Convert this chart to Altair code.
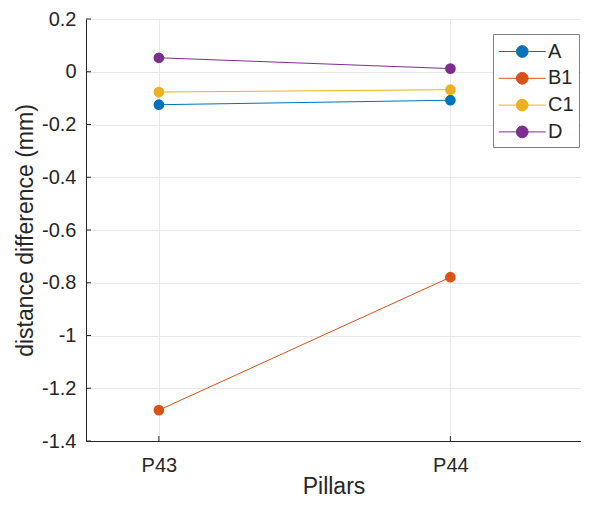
import altair as alt
import pandas as pd

pillars = ["P43", "P44"]
series = ["A", "B1", "C1", "D"]
vals_A = [-0.125, -0.108]
vals_B1 = [-1.283, -0.779]
vals_C1 = [-0.077, -0.068]
vals_D = [0.053, 0.012]
colors = ["#0072BD", "#D95319", "#EDB120", "#7E2F8E"]
y_ticks = [-1.4, -1.2, -1.0, -0.8, -0.6, -0.4, -0.2, 0.0, 0.2]
x_pos = [1, 2]

rows = []
for s, vals in zip(series, [vals_A, vals_B1, vals_C1, vals_D]):
    for p, pname, v in zip(x_pos, pillars, vals):
        rows.append({"series": s, "pos": p, "pillar": pname, "value": v})
df = pd.DataFrame(rows)

W, H = 495, 422
FONT = "Liberation Sans"
TXT = "#262626"
GRID = "#e8e8e8"

xscale = alt.Scale(domain=[0.75, 2.448], nice=False, zero=False)
yscale = alt.Scale(domain=[-1.4, 0.2], nice=False, zero=False)

label_expr = " : ".join(f"datum.value == {p} ? '{n}'" for p, n in zip(x_pos, pillars)) + " : ''"

xaxis = alt.Axis(values=x_pos, labelExpr=label_expr, title="Pillars",
                 grid=True, gridColor=GRID, ticks=False, labelPadding=14,
                 titleY=52, titleBaseline="alphabetic",
                 labelFontSize=20, titleFontSize=23,
                 labelColor=TXT, titleColor=TXT, domainColor=TXT,
                 labelFont=FONT, titleFont=FONT, titleFontWeight="normal")
yaxis = alt.Axis(values=y_ticks, labelExpr="toString(round(datum.value*10)/10)",
                 title="distance difference (mm)",
                 grid=True, gridColor=GRID, ticks=False, labelPadding=10,
                 titleX=-54, titleBaseline="alphabetic",
                 labelFontSize=20, titleFontSize=23,
                 labelColor=TXT, titleColor=TXT, domainColor=TXT,
                 labelFont=FONT, titleFont=FONT, titleFontWeight="normal")

legend = alt.Legend(orient="none", legendX=407, legendY=15, title=None,
                    symbolType="M-1,0L3,0M0.5,0A0.5,0.5 0 1,1 1.5,0A0.5,0.5 0 1,1 0.5,0",
                    symbolSize=552, symbolStrokeWidth=1, labelFontSize=20,
                    labelFont=FONT, labelColor=TXT, labelOffset=25, padding=5,
                    fillColor="white", strokeColor="#808080", rowPadding=3.8)

color = alt.Color("series:N", scale=alt.Scale(domain=series, range=colors), legend=legend)

lines = alt.Chart(df).mark_line(
    strokeWidth=1,
    point=alt.OverlayMarkDef(filled=True, size=115, opacity=1)
).encode(x=alt.X("pos:Q", scale=xscale, axis=xaxis),
         y=alt.Y("value:Q", scale=yscale, axis=yaxis),
         color=color)

yt = pd.DataFrame({"pos": [x_pos[0]] * len(y_ticks), "value": y_ticks})
xt = pd.DataFrame({"pos": x_pos, "value": [y_ticks[0]] * len(x_pos)})
ytick_layer = alt.Chart(yt).mark_rule(color=TXT, strokeWidth=1).encode(
    y=alt.Y("value:Q", scale=yscale, axis=yaxis), x=alt.value(0), x2=alt.value(5))
xtick_layer = alt.Chart(xt).mark_rule(color=TXT, strokeWidth=1).encode(
    x=alt.X("pos:Q", scale=xscale, axis=xaxis), y=alt.value(H), y2=alt.value(H - 5))

chart = alt.layer(lines, ytick_layer, xtick_layer).properties(
    width=W, height=H,
    autosize=alt.AutoSizeParams(type="none"),
    padding={"left": 78, "top": 11, "right": 0, "bottom": 56},
).configure_view(stroke=None).configure(background="white")

chart.save("out.html", embed_options={"renderer": "svg", "actions": False})
